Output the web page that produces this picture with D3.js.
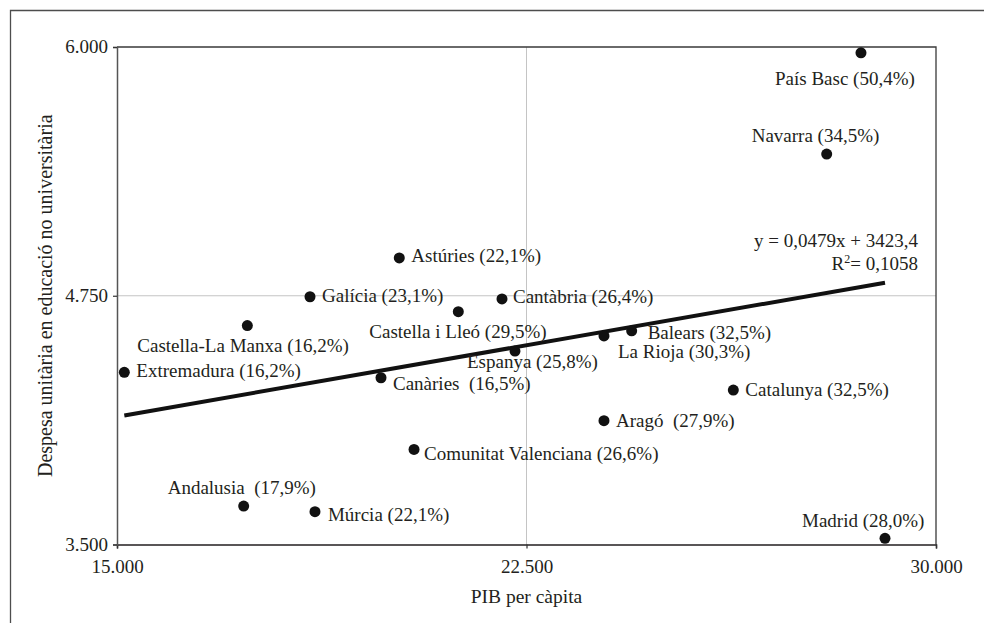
<!DOCTYPE html>
<html><head><meta charset="utf-8">
<script src="https://cdn.jsdelivr.net/npm/d3@7"></script>
<style>
html,body{margin:0;padding:0;background:#fff;}
</style></head><body>
<svg id="c" width="984" height="623"></svg>
<script>
// ---- data ----
const regions = ["País Basc","Navarra","Madrid","Catalunya","Aragó","Balears","La Rioja","Espanya","Cantàbria","Castella i Lleó","Astúries","Canàries","Comunitat Valenciana","Múrcia","Andalusia","Galícia","Castella-La Manxa","Extremadura"];
const pib = [28626,27998,29066,26288,23919,24426,23919,22289,22051,21251,20170,19835,20440,18626,17320,18535,17387,15134];
const despesa = [5971,5462,3531,4276,4122,4574,4548,4472,4734,4670,4940,4338,3978,3665,3693,4745,4600,4365];
const shares = ["50,4%","34,5%","28,0%","32,5%","27,9%","32,5%","30,3%","25,8%","26,4%","29,5%","22,1%","16,5%","26,6%","22,1%","17,9%","23,1%","16,2%","16,2%"];
const labelSep = {"Aragó":"  ","Canàries":"  ","Andalusia":"  "};
const xTicks = [15000,22500,30000];
const yTicks = [3500,4750,6000];
const slope = 0.0479, intercept = 3423.4, r2 = "0,1058";
const xTitle = "PIB per càpita";
const yTitle = "Despesa unitària en educació no universitària";

// ---- layout (label offsets relative to each point) ----
const labelOffset = {
 "País Basc":[-86,32],"Navarra":[-75,-12],"Madrid":[-83,-11],"Catalunya":[12,6],"Aragó":[12,6],
 "Balears":[16,8],"La Rioja":[14,22],"Espanya":[-48,17],"Cantàbria":[11,4],"Castella i Lleó":[-89,26],
 "Astúries":[12,4],"Canàries":[12,12],"Comunitat Valenciana":[10,11],"Múrcia":[13,9],"Andalusia":[-76,-12],
 "Galícia":[12,5],"Castella-La Manxa":[-110,26],"Extremadura":[12,5]
};

const FONT = "'Liberation Serif', 'Times New Roman', serif";
const fs = 19;
function styl(sel, size){ return sel.attr("font-family",FONT).style("font-family",FONT).style("font-size",(size||fs)+"px").attr("fill","#231f20").style("white-space","pre"); }

const svg = d3.select("#c");
const L=117, R=936, T=47, B=544.5;
const fmt = d => d3.format(",")(d).replace(/,/g,".");
const x = d3.scaleLinear().domain([15000,30000]).range([L,R]);
const y = d3.scaleLinear().domain([3500,6000]).range([B,T]);

// outer frame
svg.append("path").attr("d","M10.5,623 V10.5 H984").attr("fill","none").attr("stroke","#4d4d4d").attr("stroke-width",1.3);

// gridlines
svg.append("g").selectAll("line").data(yTicks.filter(v=>v>3500&&v<6000)).join("line")
 .attr("x1",L).attr("x2",R).attr("y1",d=>y(d)).attr("y2",d=>y(d)).attr("stroke","#c4c4c4").attr("stroke-width",1);
svg.append("g").selectAll("line").data(xTicks.filter(v=>v>15000&&v<30000)).join("line")
 .attr("y1",T).attr("y2",B).attr("x1",d=>x(d)).attr("x2",d=>x(d)).attr("stroke","#c4c4c4").attr("stroke-width",1);

// plot frame top/right
svg.append("path").attr("d",`M${L},${T} H${R} V${B}`).attr("fill","none").attr("stroke","#3a3a3a").attr("stroke-width",1.3);

// axes
const xAxis = svg.append("g").attr("transform",`translate(0,${B})`)
 .call(d3.axisBottom(x).tickValues(xTicks).tickFormat(fmt).tickSize(4).tickPadding(11));
const yAxis = svg.append("g").attr("transform",`translate(${L},0)`)
 .call(d3.axisLeft(y).tickValues(yTicks).tickFormat(fmt).tickSize(4).tickPadding(5));
xAxis.attr("font-family",FONT); yAxis.attr("font-family",FONT);
xAxis.select(".domain").attr("stroke","#231f20").attr("stroke-width",1.5);
yAxis.select(".domain").attr("stroke","#555").attr("stroke-width",1.5);
[xAxis,yAxis].forEach(a=>{
 a.selectAll(".tick line").attr("stroke","#333").attr("stroke-width",1.2);
 styl(a.selectAll("text"));
});
xAxis.selectAll("text").attr("dy","0.71em");
yAxis.selectAll("text").attr("dy","0.3em");

// titles
styl(svg.append("text").attr("x",(L+R)/2).attr("y",603).attr("text-anchor","middle"),19.5).text(xTitle);
styl(svg.append("text").attr("transform",`translate(52,${(T+B)/2}) rotate(-90)`).attr("text-anchor","middle"),20).text(yTitle);

// trend line
const xs = d3.extent(pib);
svg.append("line").attr("x1",x(xs[0])).attr("y1",y(slope*xs[0]+intercept)).attr("x2",x(xs[1])).attr("y2",y(slope*xs[1]+intercept))
 .attr("stroke","#111").attr("stroke-width",4);

// points
const data = regions.map((r,i)=>({r,x:pib[i],y:despesa[i],s:shares[i]}));
svg.append("g").selectAll("circle").data(data).join("circle")
 .attr("cx",d=>x(d.x)).attr("cy",d=>y(d.y)).attr("r",5.5).attr("fill","#111");
styl(svg.append("g").selectAll("text").data(data).join("text")
 .attr("x",d=>x(d.x)+labelOffset[d.r][0]).attr("y",d=>y(d.y)+labelOffset[d.r][1]))
 .text(d=>d.r+(labelSep[d.r]||" ")+"("+d.s+")");

// equation
styl(svg.append("text").attr("x",918).attr("y",247).attr("text-anchor","end"))
 .text("y = "+String(slope).replace(".",",")+"x + "+String(intercept).replace(".",","));
const t2 = styl(svg.append("text").attr("x",918).attr("y",269.5).attr("text-anchor","end"));
t2.append("tspan").text("R");
t2.append("tspan").attr("dy",-7).style("font-size","12px").text("2");
t2.append("tspan").attr("dy",7).text("= "+r2);
</script></body></html>
